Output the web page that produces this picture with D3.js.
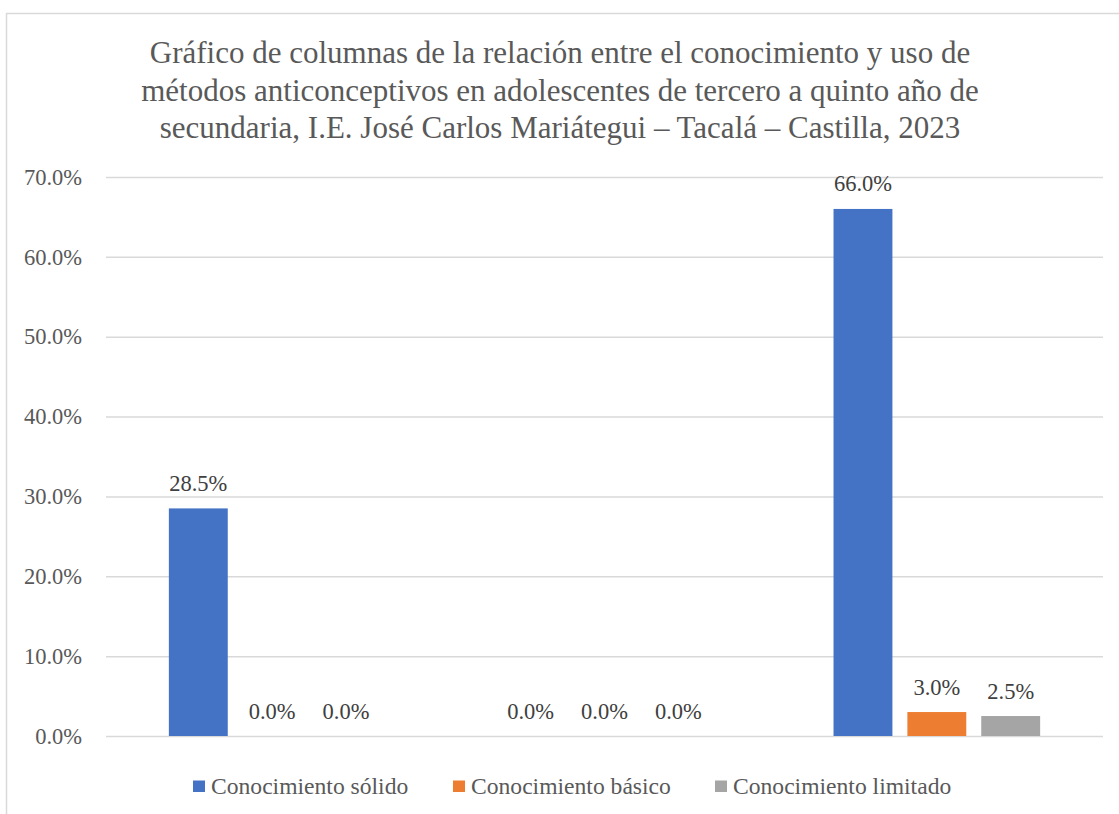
<!DOCTYPE html>
<html>
<head>
<meta charset="utf-8">
<script src="https://cdn.jsdelivr.net/npm/d3@7"></script>
<style>
  html, body { margin: 0; padding: 0; background: #fff; }
  svg { display: block; }
  svg text { font-family: "Liberation Serif", "Times New Roman", Times, serif; }
</style>
</head>
<body>
<svg id="chart" width="1119" height="814"></svg>
<script>
const titleLines = [
  "Gráfico de columnas de la relación entre el conocimiento y uso de",
  "métodos anticonceptivos en adolescentes de tercero a quinto año de",
  "secundaria, I.E. José Carlos Mariátegui – Tacalá – Castilla, 2023"
];
const categories = ["Grupo 1", "Grupo 2", "Grupo 3"];
const seriesNames = ["Conocimiento sólido", "Conocimiento básico", "Conocimiento limitado"];
const solido = [0.285, 0.0, 0.66];
const basico = [0.0, 0.0, 0.03];
const limitado = [0.0, 0.0, 0.025];
const yTicks = [0, 0.1, 0.2, 0.3, 0.4, 0.5, 0.6, 0.7];
const colors = ["#4472C4", "#ED7D31", "#A5A5A5"];

const seriesValues = [solido, basico, limitado];
const svg = d3.select("#chart");

// chart frame (only top and left edges visible)
svg.append("rect").attr("x", 6.5).attr("y", 13.5).attr("width", 1130).attr("height", 830)
  .attr("fill", "#fff").attr("stroke", "#D9D9D9").attr("stroke-width", 1.5);

// title
const title = svg.append("text").attr("font-size", 31)
  .attr("fill", "#595959").attr("text-anchor", "middle");
titleLines.forEach((t, i) => {
  title.append("tspan").attr("x", 560).attr("y", 63 + i * 37.5).text(t);
});

const plot = { left: 106, right: 1103, top: 177, bottom: 736 };
const y = d3.scaleLinear().domain([0, 0.7]).range([plot.bottom, plot.top]);
const x0 = d3.scaleBand().domain(categories).range([plot.left, plot.right]).paddingInner(0).paddingOuter(0);
const x1 = d3.scaleBand().domain(seriesNames).range([0, x0.bandwidth()])
  .paddingInner(15 / 74).paddingOuter(0.851);

// gridlines
const yAxis = d3.axisLeft(y).tickValues(yTicks).tickFormat(d3.format(".1%"))
  .tickSize(-(plot.right - plot.left)).tickPadding(24);
const gy = svg.append("g").attr("transform", `translate(${plot.left},0)`).call(yAxis)
  .attr("font-family", null);
gy.select(".domain").remove();
gy.selectAll(".tick line").attr("stroke", "#D9D9D9").attr("stroke-width", 1.5);
gy.selectAll(".tick text").attr("font-size", 22.5).attr("fill", "#595959");

// bars
const data = [];
categories.forEach((c, ci) => {
  seriesNames.forEach((s, si) => {
    data.push({ cat: c, series: s, si: si, value: seriesValues[si][ci] });
  });
});

const groups = svg.append("g");
groups.selectAll("rect").data(data).join("rect")
  .attr("x", d => x0(d.cat) + x1(d.series))
  .attr("y", d => y(d.value))
  .attr("width", x1.bandwidth())
  .attr("height", d => y(0) - y(d.value))
  .attr("fill", d => colors[d.si]);

groups.selectAll("text").data(data).join("text")
  .attr("x", d => x0(d.cat) + x1(d.series) + x1.bandwidth() / 2)
  .attr("y", d => y(d.value) - 17.5)
  .attr("text-anchor", "middle")
  .attr("font-size", 22.5).attr("fill", "#404040")
  .text(d => d3.format(".1%")(d.value));

// legend
const legendX = [193, 453, 715];
const leg = svg.append("g");
seriesNames.forEach((s, i) => {
  leg.append("rect").attr("x", legendX[i]).attr("y", 780.5).attr("width", 12).attr("height", 11.5)
    .attr("fill", colors[i]);
  leg.append("text").attr("x", legendX[i] + 18).attr("y", 793.5)
    .attr("font-size", 23.6).attr("fill", "#595959").text(s);
});
</script>
</body>
</html>
